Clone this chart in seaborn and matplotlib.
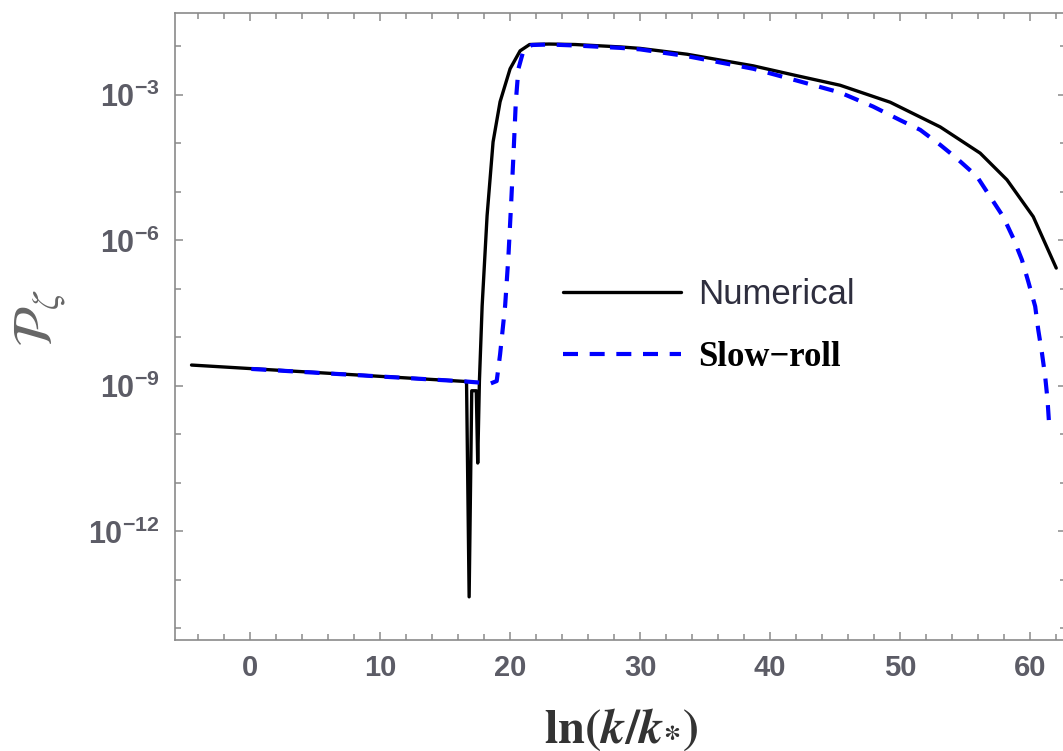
import numpy as np
import pandas as pd
import seaborn as sns
import matplotlib
matplotlib.use("Agg")
import matplotlib.pyplot as plt
from matplotlib.ticker import FixedLocator, FuncFormatter, NullFormatter

# ---------------- data ----------------
numerical_x = [-4.5, 16.65, 16.85, 17.05, 17.4, 17.51, 17.64, 17.85, 18.23, 18.69,
               19.23, 20.0, 20.77, 21.5, 23.0, 25.0, 28.5, 30.0, 33.6, 38.7, 42.0,
               45.38, 49.23, 53.08, 56.15, 58.21, 60.23, 62.0]
numerical_log10 = [-8.57, -8.91, -13.35, -9.1, -9.1, -10.59, -8.9, -7.35, -5.49, -3.97,
                   -3.14, -2.46, -2.09, -1.96, -1.95, -1.96, -2.01, -2.04, -2.16, -2.40,
                   -2.60, -2.80, -3.15, -3.66, -4.20, -4.75, -5.51, -6.57]

slowroll_x = [0.1, 16.65, 18.5, 18.97, 19.23, 19.62, 19.87, 20.08, 20.26, 20.44,
              20.64, 21.03, 21.67, 23.0, 25.0, 28.5, 30.0, 33.6, 38.7, 42.0, 45.38,
              47.92, 50.0, 51.54, 53.08, 54.36, 55.9, 56.92, 57.92, 58.69, 59.36,
              59.85, 60.38, 60.62, 60.9, 61.15, 61.33, 61.48]
slowroll_log10 = [-8.65, -8.91, -8.95, -8.90, -8.35, -7.34, -6.33, -5.24, -4.23, -3.14,
                  -2.46, -2.08, -1.97, -1.96, -1.98, -2.03, -2.06, -2.20, -2.46, -2.70,
                  -2.95, -3.24, -3.52, -3.72, -4.03, -4.31, -4.68, -5.10, -5.51, -5.95,
                  -6.40, -6.85, -7.36, -7.85, -8.32, -8.81, -9.29, -9.91]

series_labels = ["Numerical", "Slow\u2212roll"]
x_major_ticks = [0, 10, 20, 30, 40, 50, 60]
y_label_exponents = [-12, -9, -6, -3]
y_minor_exponents = [-14, -13, -11, -10, -8, -7, -5, -4, -2]

df_num = pd.DataFrame({"x": numerical_x, "P": np.power(10.0, numerical_log10)})
df_sr = pd.DataFrame({"x": slowroll_x, "P": np.power(10.0, slowroll_log10)})

# ---------------- style ----------------
sns.set_theme(style="white")
plt.rcParams["font.family"] = ["Liberation Sans", "DejaVu Sans"]
plt.rcParams["mathtext.fontset"] = "custom"
plt.rcParams["mathtext.rm"] = "Liberation Sans"
plt.rcParams["mathtext.bf"] = "Liberation Sans:bold"
plt.rcParams["mathtext.it"] = "Liberation Sans:italic"

W, H = 1063, 751
fig = plt.figure(figsize=(W / 100, H / 100), dpi=100)
ax = fig.add_axes([175 / W, 1 - 640 / H, (1066 - 175) / W, (640 - 13) / H])
ax.set_facecolor("white")

sns.lineplot(data=df_num, x="x", y="P", ax=ax, color="black", linewidth=2.4,
             label=series_labels[0], sort=False, estimator=None)
sns.lineplot(data=df_sr, x="x", y="P", ax=ax, color="#0000ff", linewidth=3.0,
             linestyle="--", label=series_labels[1], sort=False, estimator=None)
ax.lines[-1].set_dashes([3.6, 2.8])

ax.set_yscale("log")
ax.set_xlim(-5.77, 62.75)
ax.set_ylim(10 ** -14.24, 10 ** -1.31)

frame_col = "#8a8a8a"
for s in ax.spines.values():
    s.set_visible(True)
    s.set_color(frame_col)
    s.set_linewidth(1.2)

ax.xaxis.set_major_locator(FixedLocator(x_major_ticks))
ax.xaxis.set_minor_locator(FixedLocator([v for v in range(-4, 63, 2) if v % 10 != 0]))
ax.yaxis.set_major_locator(FixedLocator([10.0 ** e for e in y_label_exponents]))
ax.yaxis.set_minor_locator(FixedLocator([10.0 ** e for e in y_minor_exponents]))
ax.yaxis.set_minor_formatter(NullFormatter())
ax.yaxis.set_major_formatter(FuncFormatter(
    lambda v, p: r"$\mathbf{10^{%d}}$" % int(round(np.log10(v)))))
ax.xaxis.set_major_formatter(FuncFormatter(lambda v, p: "%d" % v))

lab_col = "#5c5c66"
ax.tick_params(which="both", direction="in", top=True, right=True, bottom=True, left=True,
               color=frame_col, width=1.1)
ax.tick_params(which="major", length=6)
ax.tick_params(which="minor", length=4)
ax.tick_params(axis="x", which="major", labelsize=21, labelcolor=lab_col, pad=10)
ax.tick_params(axis="y", which="major", labelsize=22, labelcolor=lab_col, pad=11)
for t in ax.get_xticklabels():
    t.set_fontweight("bold")

ax.set_xlabel(r"$\mathbf{ln(}\mathbfit{k}\mathbf{/}\mathbfit{k}_{\mathbf{*}}\mathbf{)}$",
              fontsize=35, color="#333333", math_fontfamily="stix")
ax.xaxis.label.set_va("center")
ax.xaxis.set_label_coords(0.5006, -0.143)
ax.set_ylabel(r"$\mathcal{P}_{\zeta}$", fontsize=40, color="#666666",
              math_fontfamily="stix")
ax.yaxis.label.set_va("center")
ax.yaxis.label.set_ha("center")
ax.yaxis.set_label_coords(-0.152, 0.5136)

leg = ax.legend(frameon=False, loc="center left",
                bbox_to_anchor=(563 / W, 1 - 326 / H), bbox_transform=fig.transFigure,
                fontsize=25, handlelength=3.4, handletextpad=0.5, labelspacing=0.85,
                borderpad=0, borderaxespad=0)
t0, t1 = leg.get_texts()
t0.set_color("#2e2e3e")
t1.set_fontfamily(["Liberation Serif", "DejaVu Serif"])
t1.set_fontweight("bold")
t1.set_color("black")

fig.savefig("out.png", dpi=100, facecolor="white")
